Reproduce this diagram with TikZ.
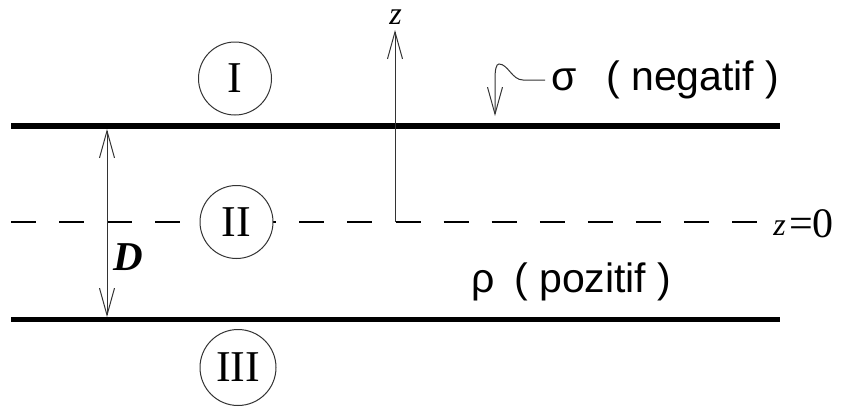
\documentclass[tikz,border=0pt]{standalone}
\usepackage{fontspec}
\setmainfont{Liberation Serif}
\newfontfamily\arialf{Liberation Sans}
\usetikzlibrary{arrows.meta}
\begin{document}
\begin{tikzpicture}[x=1pt,y=-1pt,
 thinline/.style={line width=1pt, draw=black!80},
 barb/.style={thinline, -{Straight Barb[length=27pt,width=15pt]}},
 dbarb/.style={thinline, {Straight Barb[length=27pt,width=15pt]}-{Straight Barb[length=27pt,width=15pt]}},
 region/.style={circle, draw=black!80, line width=1pt, fill=white, minimum size=73pt, inner sep=0pt, font=\fontsize{44}{44}\selectfont},
 sans/.style={font=\arialf\fontsize{41}{41}\selectfont, inner sep=0pt, anchor=base west},
 zstyle/.style={font=\fontsize{32}{32}\selectfont\itshape, inner sep=0pt}
]
\useasboundingbox (0,0) rectangle (847,410);
% plates and mid plane
\coordinate (tl) at (11,126); \coordinate (tr) at (780,126);
\coordinate (bl) at (11,319.5); \coordinate (br) at (780,319.5);
\coordinate (ml) at (11,222); \coordinate (mr) at (757,222);
\draw[line width=1.5pt, dash pattern=on 25pt off 23.07pt] (ml) -- (mr);
\draw[line width=5.5pt] (tl) -- (tr);
\draw[line width=4.5pt] (bl) -- (br);
% regions
\node[region] (r1) at (235,78.5) {I};
\node[region] (r2) at (236.5,222) {II};
\node[region, minimum size=76pt] (r3) at (238,367.5) {III};
% z axis
\coordinate (o) at (395,222); \coordinate (ztip) at (395,30);
\draw[barb] (o) -- (ztip);
\node[zstyle] (zlab) at (395.5,17) {z};
% D
\coordinate (dt) at (107,129); \coordinate (db) at (107,317);
\draw[dbarb] (dt) -- (db);
\node[anchor=base west, inner sep=0pt, font=\fontsize{41}{41}\selectfont\bfseries\itshape] (dlab) at (113,270) {D};
% sigma
\node[sans] (sig) at (551,90) {σ};
\node[sans] (neg) at (606,90) {( negatif )};
\coordinate (s0) at (545,80); \coordinate (s1) at (523,80);
\coordinate (s2) at (499,64); \coordinate (s3) at (495,80);
\coordinate (stip) at (495,116);
\draw[barb] (s0) -- (s1) .. controls (512,80) and (508,64) .. (s2) .. controls (496,64) and (495,70) .. (s3) -- (stip);
% rho
\node[sans] (rho) at (471,292) {ρ};
\node[sans] (poz) at (514,292) {( pozitif )};
% z = 0
\node[zstyle] (z0) at (779.5,228) {z};
\node[anchor=base west, inner sep=0pt, font=\fontsize{42}{42}\selectfont] (eq) at (789,237) {=0};
\end{tikzpicture}
\end{document}
